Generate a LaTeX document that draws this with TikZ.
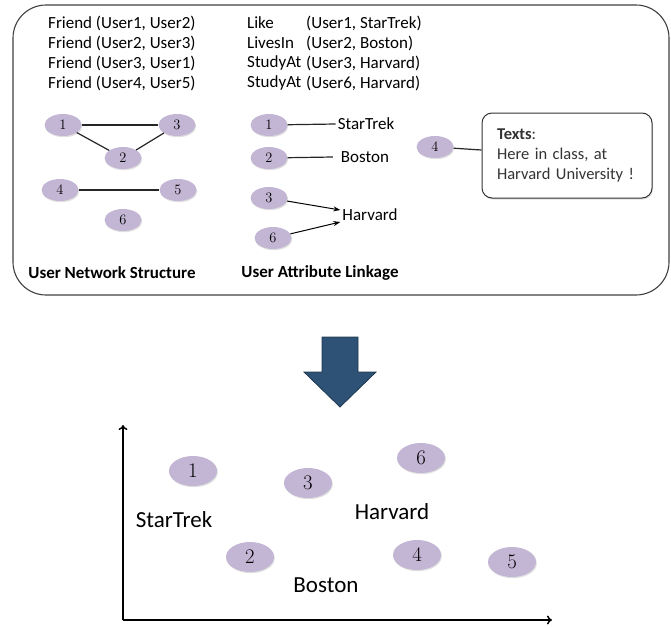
\documentclass[tikz,border=0pt]{standalone}
\usepackage[no-math]{fontspec}
\setmainfont{Carlito}
\usetikzlibrary{shapes.geometric,shadows,arrows.meta}
\definecolor{userfill}{HTML}{C2B6D4}
\definecolor{arrowfill}{HTML}{2E5275}
\definecolor{arrowline}{HTML}{1F3850}
\tikzset{
  user/.style={ellipse,fill=userfill,inner sep=0pt,minimum width=37pt,minimum height=22pt,
    font=\fontsize{14.5}{14.5}\selectfont,drop shadow={opacity=.25,shadow xshift=.8pt,shadow yshift=-1.2pt}},
  bigUser/.style={user,minimum width=48pt,minimum height=30pt,font=\fontsize{21}{21}\selectfont},
  fact/.style={anchor=west,inner sep=0pt,font=\fontsize{17}{17}\selectfont},
  attr/.style={inner sep=2pt,font=\fontsize{17}{17}\selectfont},
  bigAttr/.style={inner sep=0pt,font=\fontsize{23}{23}\selectfont},
  caption/.style={inner sep=0pt,font=\fontsize{17}{17}\selectfont\bfseries},
  link/.style={line width=1.2pt,black!85},
  tip/.style={-{Stealth[length=7pt,width=5pt]},line width=1pt}
}
\begin{document}
\begin{tikzpicture}[x=1pt,y=-1pt]
\useasboundingbox (0,0) rectangle (671,627);
\draw[rounded corners=33pt,line width=1.1pt,black!75] (13,5) rectangle (669,295);

% facts
\node[fact] (fr1) at (48,23) {Friend (User1, User2)};
\node[fact] (fr2) at (48,43) {Friend (User2, User3)};
\node[fact] (fr3) at (48,63) {Friend (User3, User1)};
\node[fact] (fr4) at (48,83) {Friend (User4, User5)};
\node[fact] (rel1) at (247,23) {Like};     \node[fact] (arg1) at (306,23) {(User1, StarTrek)};
\node[fact] (rel2) at (247,43) {LivesIn};  \node[fact] (arg2) at (306,43) {(User2, Boston)};
\node[fact] (rel3) at (247,63) {StudyAt};  \node[fact] (arg3) at (306,63) {(User3, Harvard)};
\node[fact] (rel4) at (247,83) {StudyAt};  \node[fact] (arg4) at (306,83) {(User6, Harvard)};

% network
\node[user] (u1) at (63,125) {$1$};
\node[user] (u3) at (177,125) {$3$};
\node[user] (u2) at (123,158) {$2$};
\node[user] (u4) at (60,190) {$4$};
\node[user] (u5) at (178,190) {$5$};
\node[user] (u6) at (123,220) {$6$};
\draw[link] (u1)--(u3); \draw[link] (u1)--(u2); \draw[link] (u2)--(u3); \draw[link] (u4)--(u5);
\node[caption] (netcap) at (112,273) {User Network Structure};

% attributes
\node[user] (m1) at (269,125) {$1$};
\node[user] (m2) at (269,158) {$2$};
\node[user] (m3) at (269,198) {$3$};
\node[user] (m6) at (273,238) {$6$};
\node[attr] (startrek) at (366,124) {StarTrek};
\node[attr,inner xsep=8pt] (boston) at (365,157) {Boston};
\node[attr] (harvard) at (370,215) {Harvard};
\draw[link] (m1)--(startrek.west);
\draw[link] (m2)--(boston.west);
\draw[tip] (m3)--([yshift=5pt]harvard.west);
\draw[tip] (m6)--([yshift=-7pt]harvard.west);
\node[caption] (attcap) at (320,273) {User Attribute Linkage};

% texts
\node[user] (t4) at (435,147) {$4$};
\node[draw,line width=1pt,black!80,fill=white,rounded corners=10pt,minimum height=85pt,text width=140pt,
  inner xsep=15pt,align=left,font=\fontsize{16.5}{20}\selectfont,
  drop shadow={opacity=.25,shadow xshift=1pt,shadow yshift=-1.5pt}] (texts) at (567,155.5)
  {\textbf{Texts}:\\Here in class, at\\Harvard University !};
\draw[link] (t4)--(texts);

\draw[fill=arrowfill,draw=arrowline,line width=.8pt] (322,337)--(358,337)--(358,372)--(376,372)--(340,407)--(304,372)--(322,372)--cycle;

% embedding space
\coordinate (origin) at (123,620);
\coordinate (ytop) at (123,425);
\coordinate (xend) at (552,620);
\draw[-{To[length=5pt,width=9pt]},line width=1.5pt] (origin)--(ytop);
\draw[-{To[length=5pt,width=9pt]},line width=1.5pt] (origin)--(xend);
\node[bigUser] (b1) at (193,471) {$1$};
\node[bigUser] (b3) at (308,483) {$3$};
\node[bigUser] (b6) at (421,458) {$6$};
\node[bigUser] (b2) at (250,557) {$2$};
\node[bigUser] (b4) at (417,555) {$4$};
\node[bigUser] (b5) at (512,562) {$5$};
\node[bigAttr] (bstartrek) at (174,520) {StarTrek};
\node[bigAttr] (bharvard) at (392,512) {Harvard};
\node[bigAttr] (bboston) at (326,585) {Boston};
\end{tikzpicture}
\end{document}
